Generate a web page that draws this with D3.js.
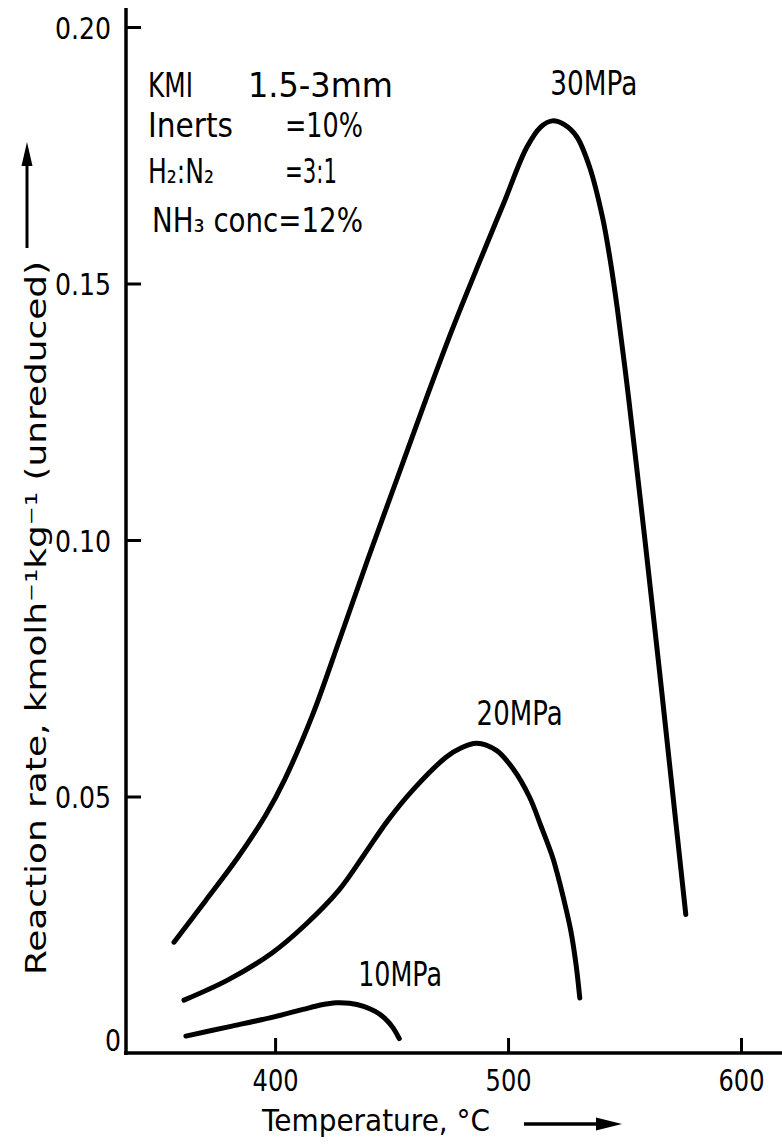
<!DOCTYPE html>
<html>
<head>
<meta charset="utf-8">
<script src="https://cdn.jsdelivr.net/npm/d3@7"></script>
<style>
  html, body { margin: 0; padding: 0; background: #fff; }
  svg { display: block; }
  text { font-family: "DejaVu Sans", sans-serif; fill: #000; }
</style>
</head>
<body>
<svg id="chart" width="782" height="1145"></svg>
<script>
// ---- data ----
const temps30 = [356.6, 370, 384, 396, 404, 416, 428, 440, 452, 464, 476, 488, 498, 508, 514, 519, 524, 529.5, 535, 540.5, 543.7, 547, 551, 555, 560, 565, 570, 576.3];
const rate30  = [0.0216, 0.0296, 0.0381, 0.0464, 0.0532, 0.0658, 0.0810, 0.0965, 0.1115, 0.1265, 0.1410, 0.1545, 0.1655, 0.1765, 0.1805, 0.1817, 0.1810, 0.1786, 0.1727, 0.1630, 0.1550, 0.1448, 0.1305, 0.1150, 0.0950, 0.0745, 0.0535, 0.0270];

const temps20 = [360.9, 380, 398.7, 413, 427.5, 438, 448.2, 459, 473.5, 480, 486.5, 495, 502, 509.2, 514, 519.1, 521, 524, 527, 529.2, 530.8];
const rate20  = [0.0103, 0.0143, 0.0195, 0.0250, 0.0318, 0.0385, 0.0452, 0.0512, 0.0577, 0.0595, 0.0604, 0.0590, 0.0555, 0.0499, 0.0444, 0.0382, 0.0352, 0.0298, 0.0237, 0.0172, 0.0107];

const temps10 = [361.7, 380, 400, 412, 420, 426.2, 432, 438, 443, 447, 450.5, 453.3];
const rate10  = [0.0033, 0.0051, 0.0071, 0.0085, 0.0094, 0.0098, 0.0097, 0.0091, 0.0081, 0.0068, 0.0050, 0.0028];

const seriesNames = ["30MPa", "20MPa", "10MPa"];
const xTicks = [400, 500, 600];
const yTicks = [0.05, 0.10, 0.15, 0.20];
const yTickLabels = ["0.05", "0.10", "0.15", "0.20"];
const zeroLabel = "0";
const xTitle = "Temperature, °C";
const yTitle = "Reaction rate, kmolh\u207B\u00B9kg\u207B\u00B9 (unreduced)";
const noteLeft  = ["KMI", "Inerts", "H\u2082:N\u2082", ""];
const noteRight = ["1.5-3mm", "=10%", "=3:1", ""];
const noteFull = "NH\u2083 conc=12%";

// ---- layout ----
const svg = d3.select("#chart");
const x = d3.scaleLinear().domain([336, 617.6]).range([126, 782]);
const y = d3.scaleLinear().domain([0, 0.2]).range([1053, 27]);

function fit(sel, w) {
  return sel.attr("textLength", w).attr("lengthAdjust", "spacingAndGlyphs");
}

// axes lines
svg.append("line").attr("x1", x(336)).attr("x2", x(336)).attr("y1", 8).attr("y2", y(0) + 2)
  .attr("stroke", "#000").attr("stroke-width", 3.5);
svg.append("line").attr("x1", x(336) - 2).attr("x2", 782).attr("y1", y(0)).attr("y2", y(0))
  .attr("stroke", "#000").attr("stroke-width", 3.5);

// y axis ticks (pointing inward)
const yAxis = d3.axisLeft(y).tickValues(yTicks).tickSizeInner(-15).tickSizeOuter(0).tickPadding(15)
  .tickFormat((d, i) => yTickLabels[i]);
const gy = svg.append("g").attr("transform", `translate(${x(336)},0)`).call(yAxis);
gy.select(".domain").remove();
gy.selectAll(".tick line").attr("stroke", "#000").attr("stroke-width", 3);
gy.selectAll(".tick text").attr("font-size", 31).attr("dy", "0.36em")
  .style("font-family", "DejaVu Sans").attr("fill", "#000")
  .each(function() { fit(d3.select(this), 56); });
svg.append("text").attr("x", 121).attr("y", y(0) - 2).attr("text-anchor", "end")
  .attr("font-size", 31).text(zeroLabel).call(s => fit(s, 16));

// x axis ticks (pointing inward)
const xAxis = d3.axisBottom(x).tickValues(xTicks).tickSizeInner(-15).tickSizeOuter(0).tickPadding(16)
  .tickFormat(d3.format("d"));
const gx = svg.append("g").attr("transform", `translate(0,${y(0)})`).call(xAxis);
gx.select(".domain").remove();
gx.selectAll(".tick line").attr("stroke", "#000").attr("stroke-width", 3);
gx.selectAll(".tick text").attr("font-size", 31).style("font-family", "DejaVu Sans").attr("fill", "#000")
  .each(function() { fit(d3.select(this), 46); });

// curves
const line = d3.line().x(d => x(d[0])).y(d => y(d[1])).curve(d3.curveCatmullRom.alpha(0.5));
const allSeries = [
  d3.zip(temps30, rate30),
  d3.zip(temps20, rate20),
  d3.zip(temps10, rate10)
];
svg.append("g").selectAll("path").data(allSeries).join("path")
  .attr("d", line).attr("fill", "none").attr("stroke", "#000")
  .attr("stroke-width", 5).attr("stroke-linecap", "round").attr("stroke-linejoin", "round");

// series labels, placed relative to each curve's peak
const peakIdx = allSeries.map(s => d3.maxIndex(s, d => d[1]));
const labelDx = [-2, 0, 22];
const labelDy = [-26, -18, -17];
const labelW = [87, 86, 84];
allSeries.forEach((s, i) => {
  const p = s[peakIdx[i]];
  svg.append("text").attr("x", x(p[0]) + labelDx[i]).attr("y", y(p[1]) + labelDy[i])
    .attr("font-size", 33).text(seriesNames[i]).call(t => fit(t, labelW[i]));
});

// annotation block
const noteX1 = [148, 148, 148];
const noteX2 = [248, 285, 285];
const noteY = [97, 137, 183, 232];
const noteW1 = [45, 85, 66];
const noteW2 = [145, 78, 52];
for (let i = 0; i < 3; i++) {
  svg.append("text").attr("x", noteX1[i]).attr("y", noteY[i]).attr("font-size", 33)
    .text(noteLeft[i]).call(s => fit(s, noteW1[i]));
  svg.append("text").attr("x", noteX2[i]).attr("y", noteY[i]).attr("font-size", 33)
    .text(noteRight[i]).call(s => fit(s, noteW2[i]));
}
svg.append("text").attr("x", 152).attr("y", noteY[3]).attr("font-size", 33)
  .text(noteFull).call(s => fit(s, 211));

// y axis title (rotated) with arrow
svg.append("text").attr("transform", "translate(46,975) rotate(-90)").attr("font-size", 28)
  .text(yTitle).call(s => fit(s, 714));
svg.append("line").attr("x1", 27).attr("x2", 27).attr("y1", 248).attr("y2", 160)
  .attr("stroke", "#000").attr("stroke-width", 3);
svg.append("path").attr("d", "M27,142 L21.5,166 L32.5,166 Z").attr("fill", "#000");

// x axis title with arrow
svg.append("text").attr("x", 262).attr("y", 1131).attr("font-size", 31).text(xTitle).call(s => fit(s, 228));
svg.append("line").attr("x1", 524).attr("x2", 598).attr("y1", 1124).attr("y2", 1124)
  .attr("stroke", "#000").attr("stroke-width", 3.5);
svg.append("path").attr("d", "M622,1124 L596,1117.5 L596,1130.5 Z").attr("fill", "#000");
</script>
</body>
</html>
